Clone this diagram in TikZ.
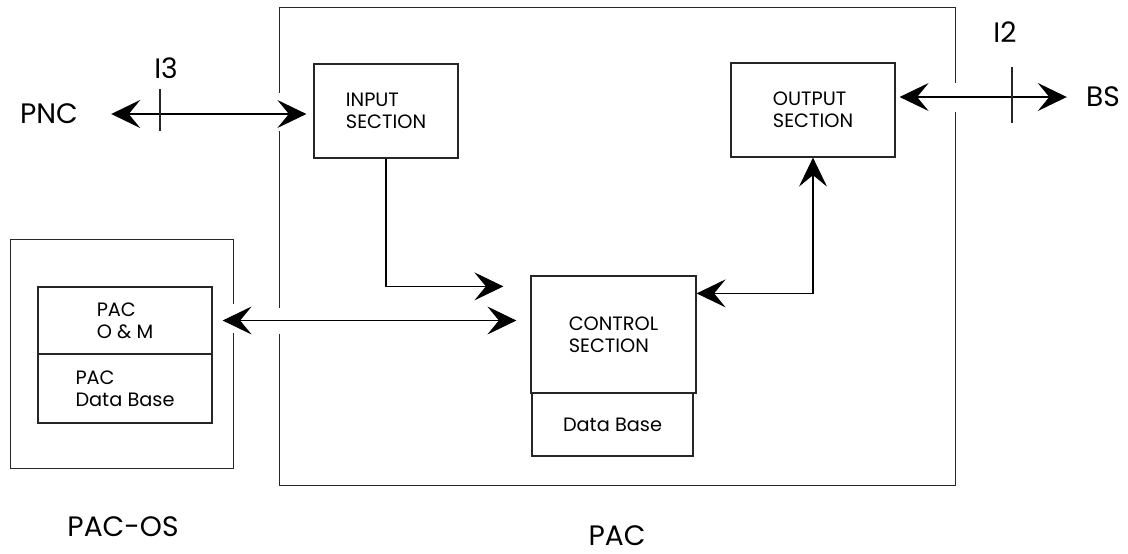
\documentclass[tikz,border=0pt]{standalone}
\usepackage{fontspec}
\setmainfont{Poppins}
\usetikzlibrary{arrows.meta,calc}

\begin{document}
\begin{tikzpicture}[
    x=0.2mm, y=-0.2mm,
    font=\fontsize{11}{12.5}\selectfont,
    box/.style={rectangle, draw=black!85, line width=0.7pt, inner sep=0pt, align=left},
    frame/.style={draw=black!85, line width=0.7pt},
    big/.style={font=\fontsize{16}{18}\selectfont, inner sep=0pt},
    arr/.style={-{Stealth[length=5.8mm, width=5.6mm, inset=2.3mm]}, line width=0.6pt},
    biarr/.style={{Stealth[length=5.8mm, width=5.6mm, inset=2.3mm]}-{Stealth[length=5.8mm, width=5.6mm, inset=2.3mm]}, line width=0.6pt}
]
\useasboundingbox (0,0) rectangle (1128,553);

% outer blocks
\node[minimum width=135mm, minimum height=95.4mm, inner sep=0pt] (pac) at (617.5,246.5) {};
\node[minimum width=44.4mm, minimum height=45.6mm, inner sep=0pt] (pacos) at (122,354) {};

% inner blocks
\node[box, minimum width=28.8mm, minimum height=18.8mm] (input) at (386,111) {INPUT\\SECTION};
\node[box, minimum width=32.8mm, minimum height=18.8mm] (output) at (813,110) {OUTPUT\\SECTION};
\node[box, minimum width=33mm, minimum height=23.4mm] (control) at (613.5,334.5) {CONTROL\\SECTION};
\node[box, minimum width=32.2mm, minimum height=12.6mm] (db) at (612.5,424.5) {Data Base};
\node[box, minimum width=34.8mm, minimum height=13.4mm] (om) at (125,320.5) {PAC\\O \& M};
\node[box, minimum width=34.8mm, minimum height=13.8mm] (pacdb) at (125,388.5) {PAC\\Data Base};

% labels
\node[big] (pnc) at (49,114) {PNC};
\node[big] (i3) at (166,68) {I3};
\node[big] (i2) at (1005,32) {I2};
\node[big] (bs) at (1103,97) {BS};
\node[big] (paclbl) at (617,536) {PAC};
\node[big] (oslbl) at (123,527) {PAC-OS};

% borders with openings
\draw[frame] ($(pac.east |- bs.west)+(0,-14)$) |- (pac.north west) -- ($(pac.west |- pnc.east)+(0,-21)$);
\draw[frame] ($(pac.west |- pnc.east)+(0,17)$) -- ($(pac.west |- om.east)+(0,-13)$);
\draw[frame] ($(pac.west |- om.east)+(0,13)$) |- (pac.south east) -- ($(pac.east |- bs.west)+(0,15)$);
\draw[frame] ($(pacos.east |- om.east)+(0,-17)$) |- (pacos.north west) -- (pacos.south west) -- (pacos.south east) -- ($(pacos.east |- om.east)+(0,12)$);

% interfaces
\draw[biarr] ($(pnc.east)+(33,0)$) -- ($(input.west |- pnc.east)+(-7,0)$);
\draw[frame] ($(pnc.east -| i3)+(-6,-25)$) -- ++(0,42);
\draw[biarr] ($(output.east |- bs.west)+(4,0)$) -- ($(bs.west)+(-19,0)$);
\draw[frame] ($(bs.west -| i2)+(7,-30)$) -- ++(0,56);

% internal flows
\draw[arr] (input.south) |- ($(control.north west)+(-27,11)$);
\draw[biarr] ($(om.east)+(10,0)$) -- ($(control.west |- om.east)+(-14,0)$);
\draw[biarr] ($(control.north east)+(0,18)$) -| (output.south);

\end{tikzpicture}
\end{document}
